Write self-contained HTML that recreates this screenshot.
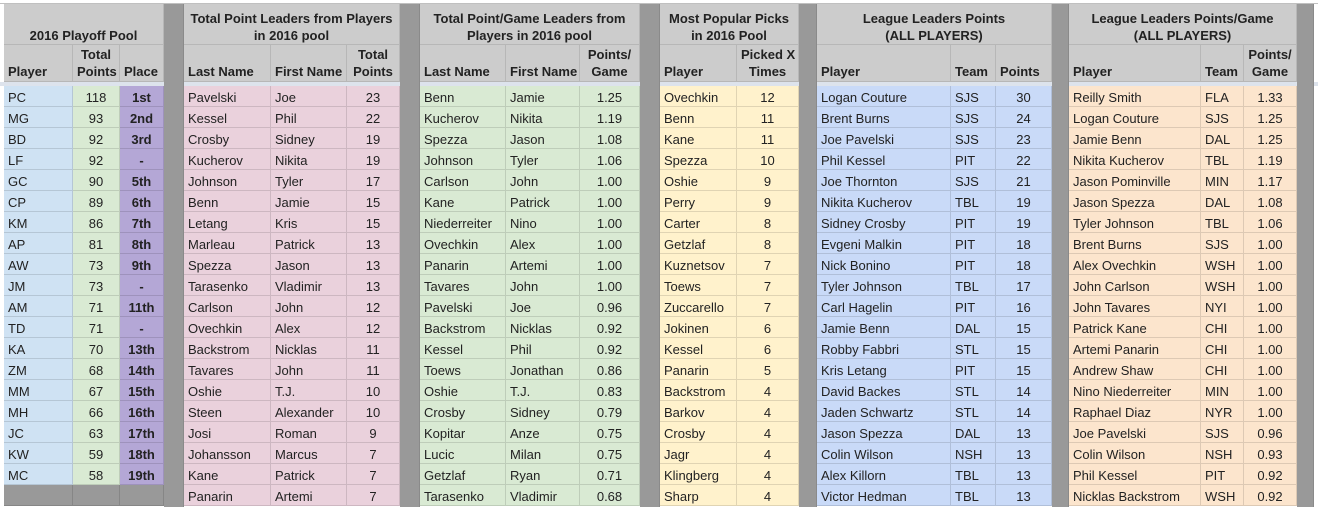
<!DOCTYPE html>
<html><head><meta charset="utf-8">
<style>
body{margin:0;width:1318px;height:507px;overflow:hidden;background:#fff;font-family:"Liberation Sans",Arial,sans-serif;font-size:13px;color:#222;}
#sheet{position:relative;width:1318px;height:507px;}
.c{position:absolute;box-sizing:border-box;white-space:nowrap;overflow:hidden;line-height:20px;padding:2px 4px 0 4px;border-right:1px solid rgba(0,0,0,0.12);border-bottom:1px solid rgba(0,0,0,0.12);}
.h{background:#cccccc;font-weight:bold;border-color:#b7b7b7;font-size:13px;}
.t{text-align:center;line-height:17px;padding-top:6px;}
.hd{display:flex;align-items:flex-end;line-height:17px;padding-bottom:1px;padding-top:0;}
.sep{position:absolute;background:#999999;}
</style></head>
<body>
<div id="sheet"></div>
<script>
const cols=[4,73,120,164,184,271,347,400,420,506,580,640,660,737,799,817,951,996,1052,1069,1201,1244,1297,1314];
const poolPlayers=["PC","MG","BD","LF","GC","CP","KM","AP","AW","JM","AM","TD","KA","ZM","MM","MH","JC","KW","MC"];
const poolPoints=[118,93,92,92,90,89,86,81,73,73,71,71,70,68,67,66,63,59,58];
const poolPlace=["1st","2nd","3rd","-","5th","6th","7th","8th","9th","-","11th","-","13th","14th","15th","16th","17th","18th","19th"];
const tpLast=["Pavelski","Kessel","Crosby","Kucherov","Johnson","Benn","Letang","Marleau","Spezza","Tarasenko","Carlson","Ovechkin","Backstrom","Tavares","Oshie","Steen","Josi","Johansson","Kane","Panarin"];
const tpFirst=["Joe","Phil","Sidney","Nikita","Tyler","Jamie","Kris","Patrick","Jason","Vladimir","John","Alex","Nicklas","John","T.J.","Alexander","Roman","Marcus","Patrick","Artemi"];
const tpPts=[23,22,19,19,17,15,15,13,13,13,12,12,11,11,10,10,9,7,7,7];
const pgLast=["Benn","Kucherov","Spezza","Johnson","Carlson","Kane","Niederreiter","Ovechkin","Panarin","Tavares","Pavelski","Backstrom","Kessel","Toews","Oshie","Crosby","Kopitar","Lucic","Getzlaf","Tarasenko"];
const pgFirst=["Jamie","Nikita","Jason","Tyler","John","Patrick","Nino","Alex","Artemi","John","Joe","Nicklas","Phil","Jonathan","T.J.","Sidney","Anze","Milan","Ryan","Vladimir"];
const pgVal=["1.25","1.19","1.08","1.06","1.00","1.00","1.00","1.00","1.00","1.00","0.96","0.92","0.92","0.86","0.83","0.79","0.75","0.75","0.71","0.68"];
const popPlayer=["Ovechkin","Benn","Kane","Spezza","Oshie","Perry","Carter","Getzlaf","Kuznetsov","Toews","Zuccarello","Jokinen","Kessel","Panarin","Backstrom","Barkov","Crosby","Jagr","Klingberg","Sharp"];
const popTimes=[12,11,11,10,9,9,8,8,7,7,7,6,6,5,4,4,4,4,4,4];
const llPlayer=["Logan Couture","Brent Burns","Joe Pavelski","Phil Kessel","Joe Thornton","Nikita Kucherov","Sidney Crosby","Evgeni Malkin","Nick Bonino","Tyler Johnson","Carl Hagelin","Jamie Benn","Robby Fabbri","Kris Letang","David Backes","Jaden Schwartz","Jason Spezza","Colin Wilson","Alex Killorn","Victor Hedman"];
const llTeam=["SJS","SJS","SJS","PIT","SJS","TBL","PIT","PIT","PIT","TBL","PIT","DAL","STL","PIT","STL","STL","DAL","NSH","TBL","TBL"];
const llPts=[30,24,23,22,21,19,19,18,18,17,16,15,15,15,14,14,13,13,13,13];
const lgPlayer=["Reilly Smith","Logan Couture","Jamie Benn","Nikita Kucherov","Jason Pominville","Jason Spezza","Tyler Johnson","Brent Burns","Alex Ovechkin","John Carlson","John Tavares","Patrick Kane","Artemi Panarin","Andrew Shaw","Nino Niederreiter","Raphael Diaz","Joe Pavelski","Colin Wilson","Phil Kessel","Nicklas Backstrom"];
const lgTeam=["FLA","SJS","DAL","TBL","MIN","DAL","TBL","SJS","WSH","WSH","NYI","CHI","CHI","CHI","MIN","NYR","SJS","NSH","PIT","WSH"];
const lgVal=["1.33","1.25","1.25","1.19","1.17","1.08","1.06","1.00","1.00","1.00","1.00","1.00","1.00","1.00","1.00","1.00","0.96","0.93","0.92","0.92"];

const sheetEl=document.getElementById('sheet');
function cell(x0,x1,y0,y1,txt,cls,bg,align,name){
  const d=document.createElement('div');
  d.className='c '+(cls||'');
  d.style.left=x0+'px';d.style.width=(x1-x0)+'px';d.style.top=y0+'px';d.style.height=(y1-y0)+'px';
  if(bg)d.style.background=bg;
  if(align)d.style.textAlign=align;
  d.innerHTML=txt;
  
  
  sheetEl.appendChild(d);return d;
}
const topStrip=document.createElement('div');
topStrip.style.cssText='position:absolute;left:0;top:0;width:1318px;height:4px;background:#fff;border-bottom:1px solid #c0c0c0;box-sizing:border-box';


sheetEl.appendChild(topStrip);
const divRow=document.createElement('div');
divRow.style.cssText='position:absolute;left:0;top:82px;width:1318px;height:4px;background:#dde3ec';


sheetEl.appendChild(divRow);
const groups=[
 {c:[0,1,2,3],title:"<br>2016 Playoff Pool",hd:["Player","Total<br>Points","Place"],al:["left","center","center"],bg:["#cfe2f3","#d9ead3","#b4a7d6"],data:[poolPlayers,poolPoints,poolPlace],n:"playoff-pool"},
 {c:[4,5,6,7],title:"Total Point Leaders from Players<br>in 2016 pool",hd:["Last Name","First Name","Total<br>Points"],al:["left","left","center"],bg:["#ead1dc","#ead1dc","#ead1dc"],data:[tpLast,tpFirst,tpPts],n:"total-point-leaders"},
 {c:[8,9,10,11],title:"Total Point/Game Leaders from<br>Players in 2016 pool",hd:["Last Name","First Name","Points/<br>Game"],al:["left","left","center"],bg:["#d9ead3","#d9ead3","#d9ead3"],data:[pgLast,pgFirst,pgVal],n:"point-game-leaders"},
 {c:[12,13,14],title:"Most Popular Picks<br>in 2016 Pool",hd:["Player","Picked X<br>Times"],al:["left","center"],bg:["#fff2cc","#fff2cc"],data:[popPlayer,popTimes],n:"popular-picks"},
 {c:[15,16,17,18],title:"League Leaders Points<br>(ALL PLAYERS)",hd:["Player","Team","Points"],al:["left","left","center"],bg:["#c9daf8","#c9daf8","#c9daf8"],data:[llPlayer,llTeam,llPts],n:"league-leaders-points"},
 {c:[19,20,21,22],title:"League Leaders Points/Game<br>(ALL PLAYERS)",hd:["Player","Team","Points/<br>Game"],al:["left","left","center"],bg:["#fce5cd","#fce5cd","#fce5cd"],data:[lgPlayer,lgTeam,lgVal],n:"league-leaders-ppg"}
];
groups.forEach(g=>{
  const x0=cols[g.c[0]],x1=cols[g.c[g.c.length-1]];
  cell(x0,x1,4,45,g.title,'h t',null,'center',g.n+'-title');
  for(let k=0;k<g.hd.length;k++){
    const a=cols[g.c[k]],b=cols[g.c[k+1]];
    cell(a,b,45,82,'<span style="width:100%;text-align:'+(g.hd[k].includes('<br>')?'center':'left')+'">'+g.hd[k]+'</span>','h hd',null,null,g.n+'-header');
    for(let r=0;r<20;r++){
      const y=86+r*21;
      const v=g.data[k][r];
      if(v===undefined){cell(a,b,y,y+21,'','','#999999',null,g.n+'-empty-cell');continue;}
      const bold=(g.n==='playoff-pool'&&k===2);
      cell(a,b,y,y+21,bold?'<b>'+v+'</b>':String(v),'',g.bg[k],g.al[k],g.n+'-cell');
    }
  }
});
[[164,184],[400,420],[640,660],[799,817],[1052,1069],[1297,1314]].forEach(g=>{
  const d=document.createElement('div');d.className='sep';
  d.style.left=g[0]+'px';d.style.width=(g[1]-g[0])+'px';d.style.top='4px';d.style.height='503px';
  d.style.borderRight='1px solid #8a8a8a';d.style.boxSizing='border-box';
  
  
  sheetEl.appendChild(d);
});
</script>
</body></html>
